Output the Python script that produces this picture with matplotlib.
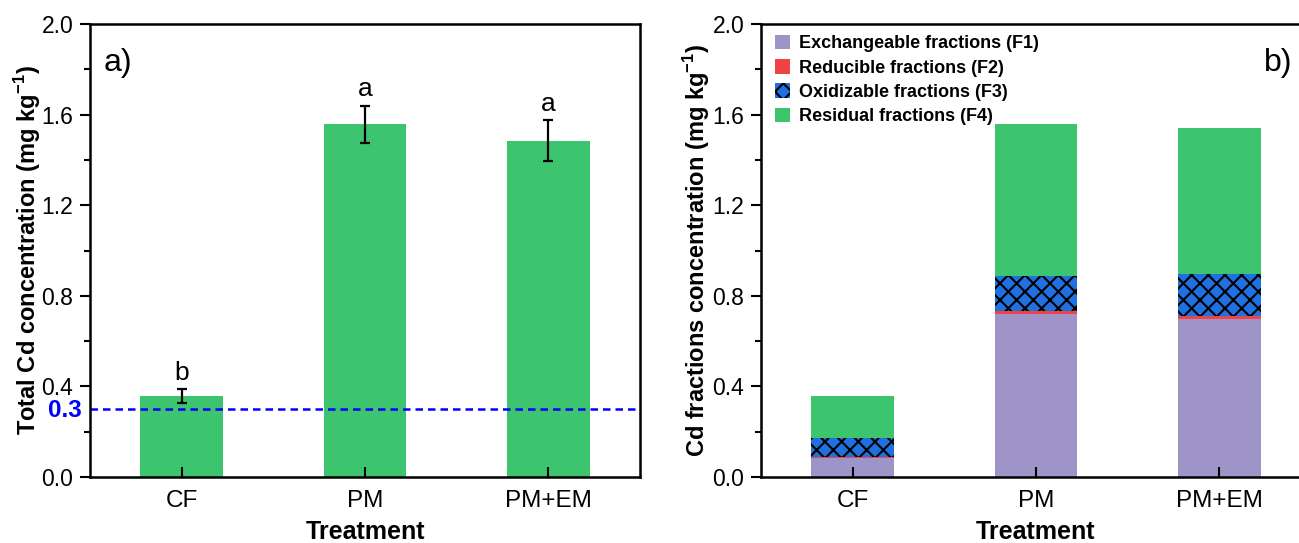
import matplotlib
matplotlib.use("Agg")
import matplotlib.pyplot as plt
import numpy as np
from matplotlib.ticker import MultipleLocator

plt.rcParams['font.family'] = ['Liberation Sans', 'DejaVu Sans']
plt.rcParams['mathtext.fontset'] = 'custom'
plt.rcParams['mathtext.rm'] = 'Liberation Sans'
plt.rcParams['mathtext.bf'] = 'Liberation Sans:bold'
plt.rcParams['hatch.linewidth'] = 1.5

treatments = ["CF", "PM", "PM+EM"]

# panel a) total Cd
total_cd = [0.358, 1.558, 1.485]
total_err = [0.030, 0.082, 0.090]
letters = ["b", "a", "a"]
limit_value = 0.3

# panel b) Cd fractions
f1 = [0.085, 0.718, 0.696]
f2 = [0.005, 0.017, 0.016]
f3 = [0.082, 0.153, 0.183]
f4 = [0.186, 0.671, 0.646]
fraction_names = ["Exchangeable fractions (F1)", "Reducible fractions (F2)",
                  "Oxidizable fractions (F3)", "Residual fractions (F4)"]

green = "#3cc46e"
purple = "#9f94c8"
red = "#f04444"
blue = "#1f70e0"

fig = plt.figure(figsize=(12.99, 5.43), dpi=100)
ax1 = fig.add_axes([0.0693, 0.1215, 0.4234, 0.8343])
ax2 = fig.add_axes([0.5858, 0.1215, 0.4234, 0.8343])

x = np.arange(len(treatments))
w = 0.45

# ---- a)
ax1.bar(x, total_cd, w, color=green, edgecolor="none")
ax1.errorbar(x, total_cd, yerr=total_err, fmt="none", ecolor="black",
             elinewidth=1.6, capsize=3.8, capthick=1.6)
for i in range(len(x)):
    ax1.text(x[i], total_cd[i] + total_err[i] + 0.02, letters[i],
             ha="center", va="bottom", fontsize=19)
ax1.axhline(limit_value, color="#0000ff", ls=(0, (3, 2)), lw=1.8)
ax1.text(-0.015, limit_value - 0.005, "0.3", transform=ax1.get_yaxis_transform(),
         ha="right", va="center", color="#0000ff", fontsize=17.5, fontweight="bold")
ax1.text(0.025, 0.915, "a)", transform=ax1.transAxes, fontsize=23,
         ha="left", va="center")
ax1.set_ylabel("Total Cd concentration (mg kg$^{\\mathbf{-1}}$)",
               fontsize=17, fontweight="bold", labelpad=-1)

# ---- b)
bottom = np.zeros(len(x))
ax2.bar(x, f1, w, bottom=bottom, color=purple, edgecolor="none", label=fraction_names[0])
bottom += np.array(f1)
ax2.bar(x, f2, w, bottom=bottom, color=red, edgecolor="none", label=fraction_names[1])
bottom += np.array(f2)
ax2.bar(x, f3, w, bottom=bottom, color=blue, edgecolor="black", lw=0,
        hatch="xx", label=fraction_names[2])
bottom += np.array(f3)
ax2.bar(x, f4, w, bottom=bottom, color=green, edgecolor="none", label=fraction_names[3])
ax2.text(0.94, 0.915, "b)", transform=ax2.transAxes, fontsize=23,
         ha="center", va="center")
ax2.set_ylabel("Cd fractions concentration (mg kg$^{\\mathbf{-1}}$)",
               fontsize=17, fontweight="bold", labelpad=0)
leg = ax2.legend(loc="upper left", frameon=False, prop={"weight": "bold", "size": 13},
                 handlelength=0.85, handleheight=0.85, handletextpad=0.5,
                 labelspacing=0.38, borderaxespad=0.2, bbox_to_anchor=(0.005, 1.0))

for ax in (ax1, ax2):
    ax.set_xlim(-0.5, 2.5)
    ax.set_ylim(0, 2.0)
    ax.set_xticks(x)
    ax.set_xticklabels(treatments, fontsize=17.5)
    ax.yaxis.set_minor_locator(MultipleLocator(0.2))
    yt = np.arange(0, 2.01, 0.4)
    ax.set_yticks(yt)
    ax.set_yticklabels([f"{v:.1f}" for v in yt], fontsize=16.5)
    ax.tick_params(axis="y", which="major", direction="out", length=7, width=1.5, pad=5)
    ax.tick_params(axis="y", which="minor", direction="out", length=4, width=1.5)
    ax.tick_params(axis="x", which="major", direction="in", length=7, width=1.5, pad=9)
    ax.set_xlabel("Treatment", fontsize=18, fontweight="bold", va="baseline")
    ax.xaxis.set_label_coords(0.5, -0.137)
    for s in ax.spines.values():
        s.set_linewidth(1.8)

fig.savefig("out.png", dpi=100)
